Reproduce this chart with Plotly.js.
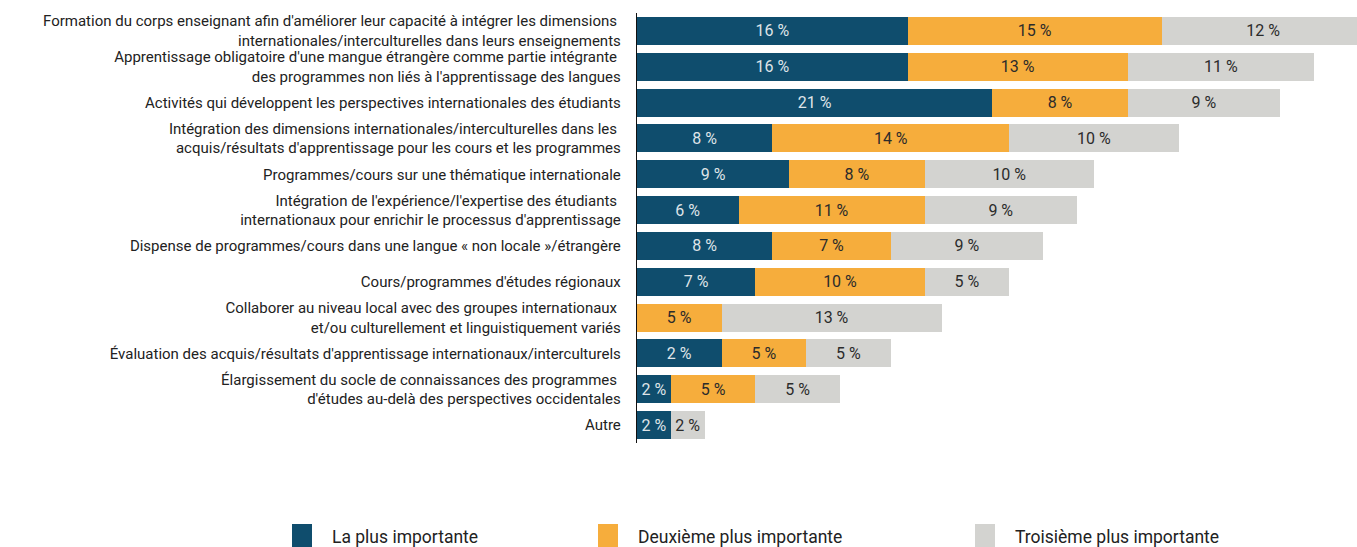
<!DOCTYPE html>
<html>
<head>
<meta charset="utf-8">
<script src="https://cdn.plot.ly/plotly-3.0.1.min.js"></script>
<style>
html, body { margin: 0; padding: 0; overflow: hidden; background: #fff; }
#chart { width: 1400px; height: 547px; }
</style>
</head>
<body>
<div id="chart"></div>
<script>
// Categories, top to bottom
const categories = [
  "Formation du corps enseignant afin d'améliorer leur capacité à intégrer les dimensions\u00a0<br>internationales/interculturelles dans leurs enseignements",
  "Apprentissage obligatoire d'une mangue étrangère comme partie intégrante\u00a0<br>des programmes non liés à l'apprentissage des langues",
  "Activités qui développent les perspectives internationales des étudiants",
  "Intégration des dimensions internationales/interculturelles dans les\u00a0<br>acquis/résultats d'apprentissage pour les cours et les programmes",
  "Programmes/cours sur une thématique internationale",
  "Intégration de l'expérience/l'expertise des étudiants\u00a0<br>internationaux pour enrichir le processus d'apprentissage",
  "Dispense de programmes/cours dans une langue « non locale »/étrangère",
  "Cours/programmes d'études régionaux",
  "Collaborer au niveau local avec des groupes internationaux\u00a0<br>et/ou culturellement et linguistiquement variés",
  "Évaluation des acquis/résultats d'apprentissage internationaux/interculturels",
  "Élargissement du socle de connaissances des programmes\u00a0<br>d'études au-delà des perspectives occidentales",
  "Autre"
];

const seriesNames = ["La plus importante", "Deuxième plus importante", "Troisième plus importante"];

// Bar lengths as drawn (percent)
const first  = [16, 16, 21, 8, 9, 6, 8, 7, 0, 5, 2, 2];
const second = [15, 13, 8, 14, 8, 11, 7, 10, 5, 5, 5, 0];
const third  = [12, 11, 9, 10, 10, 9, 9, 5, 13, 5, 5, 2];

// Printed labels
const firstLabels  = ["16 %", "16 %", "21 %", "8 %", "9 %", "6 %", "8 %", "7 %", "", "2 %", "2 %", "2 %"];
const secondLabels = ["15 %", "13 %", "8 %", "14 %", "8 %", "11 %", "7 %", "10 %", "5 %", "5 %", "5 %", ""];
const thirdLabels  = ["12 %", "11 %", "9 %", "10 %", "10 %", "9 %", "9 %", "5 %", "13 %", "5 %", "5 %", "2 %"];

const colors = ["#0f4d6d", "#f6ad3c", "#d3d3d0"];
const textColors = ["#dfe4e8", "#2b2b2b", "#2b2b2b"];
const FONT = "Roboto, 'Liberation Sans', sans-serif";

const vals = [first, second, third];
const labs = [firstLabels, secondLabels, thirdLabels];

const traces = vals.map((v, i) => ({
  type: "bar",
  orientation: "h",
  name: seriesNames[i],
  y: categories,
  x: v,
  text: labs[i],
  textposition: "inside",
  insidetextanchor: "middle",
  textangle: 0,
  constraintext: "none",
  textfont: { family: FONT, size: 16, color: textColors[i] },
  marker: { color: colors[i], line: { width: 0 } },
  showlegend: false,
  hoverinfo: "skip",
  cliponaxis: true
}));

// Legend keys and labels (paper coords; plot area x 637..1380, y 13..443)
const legendX = [292, 598, 975];
const shapes = [];
const annotations = [];
seriesNames.forEach((n, i) => {
  shapes.push({
    type: "rect", xref: "paper", yref: "paper",
    x0: (legendX[i] - 637) / 743, x1: (legendX[i] + 20 - 637) / 743,
    y0: (443 - 550) / 430, y1: (443 - 524) / 430,
    fillcolor: colors[i], line: { width: 0 }
  });
  annotations.push({
    xref: "paper", yref: "paper",
    x: (legendX[i] + 38 - 637) / 743, y: (443 - 537) / 430,
    xanchor: "left", yanchor: "middle",
    text: n, showarrow: false,
    font: { family: FONT, size: 17.5, color: "#222" }
  });
});

const layout = {
  width: 1400,
  height: 547,
  margin: { l: 637, r: 20, t: 13, b: 104 },
  paper_bgcolor: "#ffffff",
  plot_bgcolor: "#ffffff",
  barmode: "stack",
  bargap: 0.22,
  showlegend: false,
  font: { family: FONT, size: 15, color: "#222" },
  xaxis: {
    range: [0, 43.9],
    showgrid: false,
    zeroline: false,
    showticklabels: false,
    showline: false,
    ticks: "",
    fixedrange: true
  },
  yaxis: {
    autorange: "reversed",
    showgrid: false,
    zeroline: false,
    showline: true,
    linecolor: "#111",
    linewidth: 1.2,
    ticks: "",
    ticklabelstandoff: 12,
    tickfont: { family: FONT, size: 15, color: "#222" },
    fixedrange: true
  },
  shapes: shapes,
  annotations: annotations
};

Plotly.newPlot("chart", traces, layout, { displayModeBar: false, staticPlot: true });
</script>
</body>
</html>
